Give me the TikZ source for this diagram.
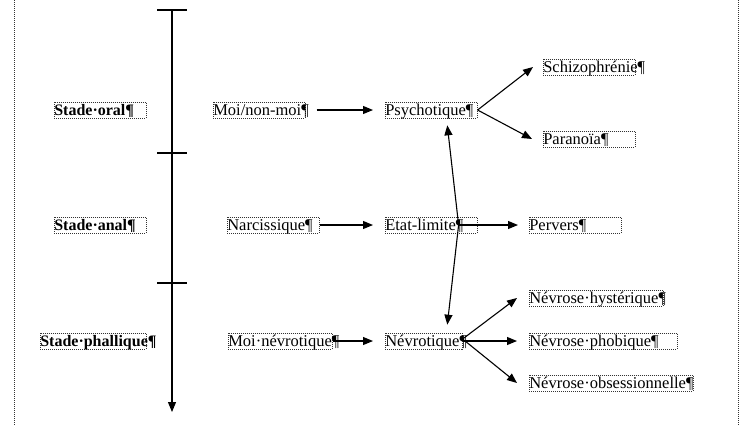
\documentclass[tikz,border=0pt]{standalone}
\usepackage{fontspec}
\setmainfont{Liberation Serif}
\usetikzlibrary{arrows.meta,calc}
\tikzset{
  tb/.style={draw=black!80, dash pattern=on 1pt off 1pt, line width=0.6pt, anchor=west,
    inner xsep=0pt, inner ysep=0.5pt, text height=13pt, text depth=2pt,
    font=\fontsize{16.5pt}{19pt}\selectfont},
  tbb/.style={tb, font=\fontsize{16pt}{19pt}\selectfont\bfseries},
  arr/.style={line width=1.1pt, -{Triangle[length=10pt,width=8pt]}},
  tline/.style={line width=1.1pt},
  margin/.style={draw=black!80, dash pattern=on 1pt off 1pt, line width=0.7pt}
}
\newcommand{\tbox}[6]{\node[#1] (#2) at (#3,#4) {\makebox[#5pt][l]{#6}};}
\begin{document}
\begin{tikzpicture}[x=1pt,y=-1pt]
\useasboundingbox (0,0) rectangle (754,426);
% page margins
\coordinate (ml0) at (14,0); \coordinate (ml1) at (14,426);
\coordinate (mr0) at (738,0); \coordinate (mr1) at (738,426);
\draw[margin] (ml0) -- (ml1);
\draw[margin] (mr0) -- (mr1);
% timeline
\coordinate (t0) at (172,10); \coordinate (t1) at (172,153);
\coordinate (t2) at (172,283); \coordinate (tend) at (172,412);
\draw[arr] (t0) -- (tend);
\foreach \c in {t0,t1,t2}{\draw[tline] ($(\c)+(-15,0)$) -- ($(\c)+(15,0)$);}
% stages
\tbox{tbb}{soral}{54}{110}{92}{Stade·oral¶}
\tbox{tbb}{sanal}{54}{225}{92}{Stade·anal¶}
\tbox{tbb}{sphal}{40}{341}{106}{Stade·phallique¶}
% column 2
\tbox{tb}{moi}{213}{110}{92}{Moi/non-moi¶}
\tbox{tb}{narc}{227}{225}{92}{Narcissique¶}
\tbox{tb}{moinev}{228}{341}{104}{Moi·névrotique¶}
% column 3
\tbox{tb}{psy}{385}{110}{92}{Psychotique¶}
\tbox{tb}{etat}{385}{225}{92}{Etat-limite¶}
\tbox{tb}{nev}{385}{341}{77}{Névrotique¶}
% column 4
\tbox{tb}{schizo}{543}{67}{92}{Schizophrénie¶}
\tbox{tb}{para}{543}{139}{92}{Paranoïa¶}
\tbox{tb}{perv}{529}{225}{92}{Pervers¶}
\tbox{tb}{hyst}{529}{298}{134}{Névrose·hystérique¶}
\tbox{tb}{phob}{529}{341}{148}{Névrose·phobique¶}
\tbox{tb}{obs}{529}{383}{164}{Névrose·obsessionnelle¶}
% connectors
\draw[arr] ([xshift=11pt]moi.east) -- ([xshift=-12pt]psy.west);
\draw[arr] (narc.east) -- ([xshift=-12pt]etat.west);
\draw[arr] (moinev.east) -- ([xshift=-12pt]nev.west);
\draw[arr] (psy.east) -- ([xshift=-10pt]schizo.west);
\draw[arr] (psy.east) -- ([xshift=-11pt]para.west);
\coordinate (ec) at ($(etat.east)+(-19,0)$);
\draw[arr] (ec) -- ([xshift=-11pt]perv.west);
\draw[arr] (ec) -- ($(psy.south)+(16,7)$);
\draw[arr] (ec) -- ($(nev.north)+(23.5,-8)$);
\draw[arr] ([yshift=2pt]nev.east) -- ([xshift=-12pt]hyst.west);
\draw[arr] (nev.east) -- ([xshift=-12pt]phob.west);
\draw[arr] ([yshift=2pt]nev.east) -- ([xshift=-12pt]obs.west);
\end{tikzpicture}
\end{document}
